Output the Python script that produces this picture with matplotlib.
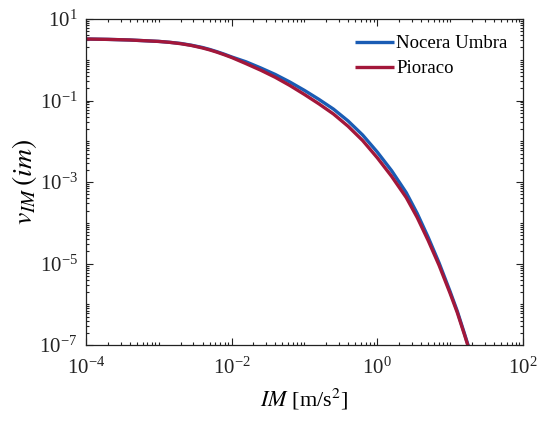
import matplotlib
matplotlib.use("Agg")
import matplotlib.pyplot as plt
from matplotlib.ticker import LogLocator, NullFormatter

plt.rcParams["font.family"] = ["Liberation Serif", "DejaVu Serif"]
plt.rcParams["mathtext.fontset"] = "stix"

# Intensity measure values [m/s^2]
im = [1.0e-4, 2.0e-4, 3.98e-4, 1.0e-3, 1.41e-3, 2.0e-3, 2.82e-3, 3.98e-3,
      5.01e-3, 6.31e-3, 7.94e-3, 1.0e-2, 1.58e-2, 2.51e-2, 3.98e-2, 6.31e-2,
      0.1, 0.158, 0.251, 0.398, 0.631, 1.0, 1.58, 2.51, 3.55, 5.01, 7.08,
      10.0, 12.6, 15.8, 18.6]

# Mean annual rate of exceedance for each site
nu_nocera = [3.228, 3.162, 3.055, 2.818, 2.680, 2.512, 2.270, 2.000,
             1.790, 1.575, 1.370, 1.175, 0.891, 0.631, 0.4365, 0.2851,
             0.1778, 0.1072, 0.06166, 0.03162, 0.01429, 5.495e-3, 1.905e-3,
             5.495e-4, 1.698e-4, 4.467e-5, 1.047e-5, 2.113e-6, 6.84e-7,
             1.928e-7, 7.59e-8]
nu_pioraco = [3.228, 3.162, 3.055, 2.818, 2.676, 2.480, 2.239, 1.950,
              1.746, 1.535, 1.330, 1.140, 0.8035, 0.5559, 0.3715, 0.2344,
              0.1413, 0.08318, 0.04677, 0.02344, 0.01047, 3.981e-3, 1.380e-3,
              4.169e-4, 1.349e-4, 3.715e-5, 9.12e-6, 1.905e-6, 6.31e-7,
              1.82e-7, 7.24e-8]

sites = ["Nocera Umbra", "Pioraco"]
colors = ["#1a5cb4", "#a3173a"]

fig = plt.figure(figsize=(5.44, 4.22), dpi=100)
ax = fig.add_axes([0.158, 0.182, 0.803, 0.773])

for name, vals, c in zip(sites, [nu_nocera, nu_pioraco], colors):
    ax.plot(im, vals, color=c, lw=2.4, label=name, solid_capstyle="butt",
            solid_joinstyle="round")

ax.set_xscale("log")
ax.set_yscale("log")
ax.set_xlim(1e-4, 1e2)
ax.set_ylim(1e-7, 1e1)

ax.set_xticks([1e-4, 1e-2, 1e0, 1e2])
ax.set_yticks([1e-7, 1e-5, 1e-3, 1e-1, 1e1])
ax.xaxis.set_minor_locator(LogLocator(base=10.0, subs=[1, 2, 3, 4, 5, 6, 7, 8, 9], numticks=50))
ax.yaxis.set_minor_locator(LogLocator(base=10.0, subs=[1, 2, 3, 4, 5, 6, 7, 8, 9], numticks=50))
ax.xaxis.set_minor_formatter(NullFormatter())
ax.yaxis.set_minor_formatter(NullFormatter())

ax.tick_params(which="both", direction="in", top=True, right=True,
               labelsize=15, colors="#222222", width=0.8)
ax.tick_params(which="major", length=5)
ax.tick_params(axis="x", which="major", pad=9)
ax.tick_params(axis="y", which="major", pad=6)
ax.tick_params(which="minor", length=2.5)
for s in ax.spines.values():
    s.set_linewidth(0.9)
    s.set_color("#222222")

ax.set_xlabel(r"$IM$ [m/s$^2$]", fontsize=16, labelpad=6)
ax.set_ylabel(r"$v_{IM}\,(im)$", fontsize=20, labelpad=0)

ax.legend(loc="upper right", bbox_to_anchor=(0.965, 0.95), frameon=False,
          fontsize=13.5, handlelength=2.1, handletextpad=0.1,
          labelspacing=0.42, borderaxespad=0.0, borderpad=0.0)

fig.savefig("out.png", dpi=100)
